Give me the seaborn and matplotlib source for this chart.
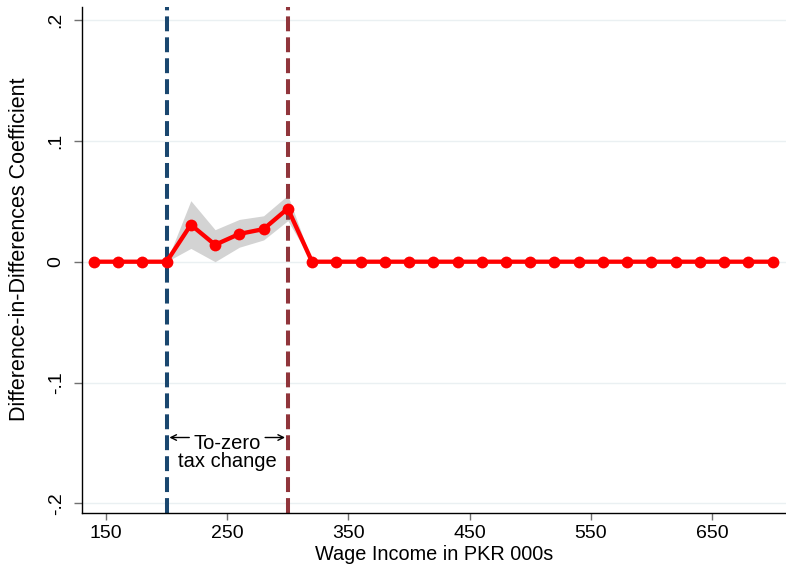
import numpy as np
import pandas as pd
import matplotlib
matplotlib.use("Agg")
import matplotlib.pyplot as plt
import seaborn as sns

wage = list(range(140, 701, 20))
coef_mid = {200: 0.0, 220: 0.0306, 240: 0.014, 260: 0.023, 280: 0.027, 300: 0.044, 320: 0.0}
ci_lo_mid = {200: 0.0, 220: 0.011, 240: 0.0, 260: 0.012, 280: 0.018, 300: 0.034, 320: 0.0}
ci_hi_mid = {200: 0.0, 220: 0.0505, 240: 0.0265, 260: 0.035, 280: 0.038, 300: 0.055, 320: 0.0}
coef = [coef_mid.get(w, 0.0) for w in wage]
ci_lo = [ci_lo_mid.get(w, 0.0) for w in wage]
ci_hi = [ci_hi_mid.get(w, 0.0) for w in wage]
xticks = [150, 250, 350, 450, 550, 650]
yticks = [-0.2, -0.1, 0, 0.1, 0.2]
ytick_labels = ["-.2", "-.1", "0", ".1", ".2"]

df = pd.DataFrame({"wage": wage, "coef": coef, "lo": ci_lo, "hi": ci_hi})

sns.set_style("white")
plt.rcParams["font.family"] = ["Liberation Sans", "DejaVu Sans"]
plt.rcParams["text.color"] = "black"
plt.rcParams["axes.labelcolor"] = "black"
plt.rcParams["xtick.color"] = "black"
plt.rcParams["ytick.color"] = "black"

fig = plt.figure(figsize=(7.86, 5.66), dpi=100)
ax = fig.add_axes([0.104, 0.0936, 0.896, 0.894])

for y in yticks:
    ax.axhline(y, color="#eaf0f2", lw=1, zorder=0)

ci = df[(df.wage >= 200) & (df.wage <= 320)]
ax.fill_between(ci.wage, ci.lo, ci.hi, color="#d3d3d3", lw=0, zorder=1)

ax.axvline(200, color="#1a476f", lw=2.9, ls=(0, (3.7, 1.5)), zorder=2)
ax.axvline(300, color="#90353b", lw=2.9, ls=(0, (3.7, 1.5)), zorder=2)

sns.lineplot(data=df, x="wage", y="coef", color="#ff0000", lw=3.1, marker="o",
             markersize=8.5, markeredgewidth=0, ax=ax, zorder=3)

ax.text(250, -0.1425, "To-zero\ntax change", ha="center", va="top", fontsize=14.5,
        linespacing=0.95, bbox=dict(fc="white", ec="none", pad=0.3), zorder=4)
ax.annotate("", xy=(200, -0.1455), xytext=(221, -0.1455),
            arrowprops=dict(arrowstyle="->", color="black", lw=1), zorder=4)
ax.annotate("", xy=(300, -0.1455), xytext=(279, -0.1455),
            arrowprops=dict(arrowstyle="->", color="black", lw=1), zorder=4)

ax.set_xlim(130, 711)
ax.set_ylim(-0.208, 0.2108)
ax.set_xticks(xticks)
ax.set_xticklabels([str(t) for t in xticks], fontsize=14)
ax.set_yticks(yticks)
ax.set_yticklabels(ytick_labels, fontsize=14, rotation=90, va="center")
ax.tick_params(axis="both", width=1, color="#707070", direction="out",
               bottom=True, left=True)
ax.tick_params(axis="x", length=5, pad=3.5)
ax.tick_params(axis="y", length=5.8, pad=6.5)
ax.set_xlabel("Wage Income in PKR 000s", fontsize=14.3, labelpad=2)
ax.set_ylabel("Difference-in-Differences Coefficient", fontsize=15.5)
ax.yaxis.set_label_coords(-0.074, 0.522)
for s in ["top", "right"]:
    ax.spines[s].set_visible(False)
for s in ["left", "bottom"]:
    ax.spines[s].set_color("black")
    ax.spines[s].set_linewidth(1)

fig.savefig("out.png", dpi=100)
